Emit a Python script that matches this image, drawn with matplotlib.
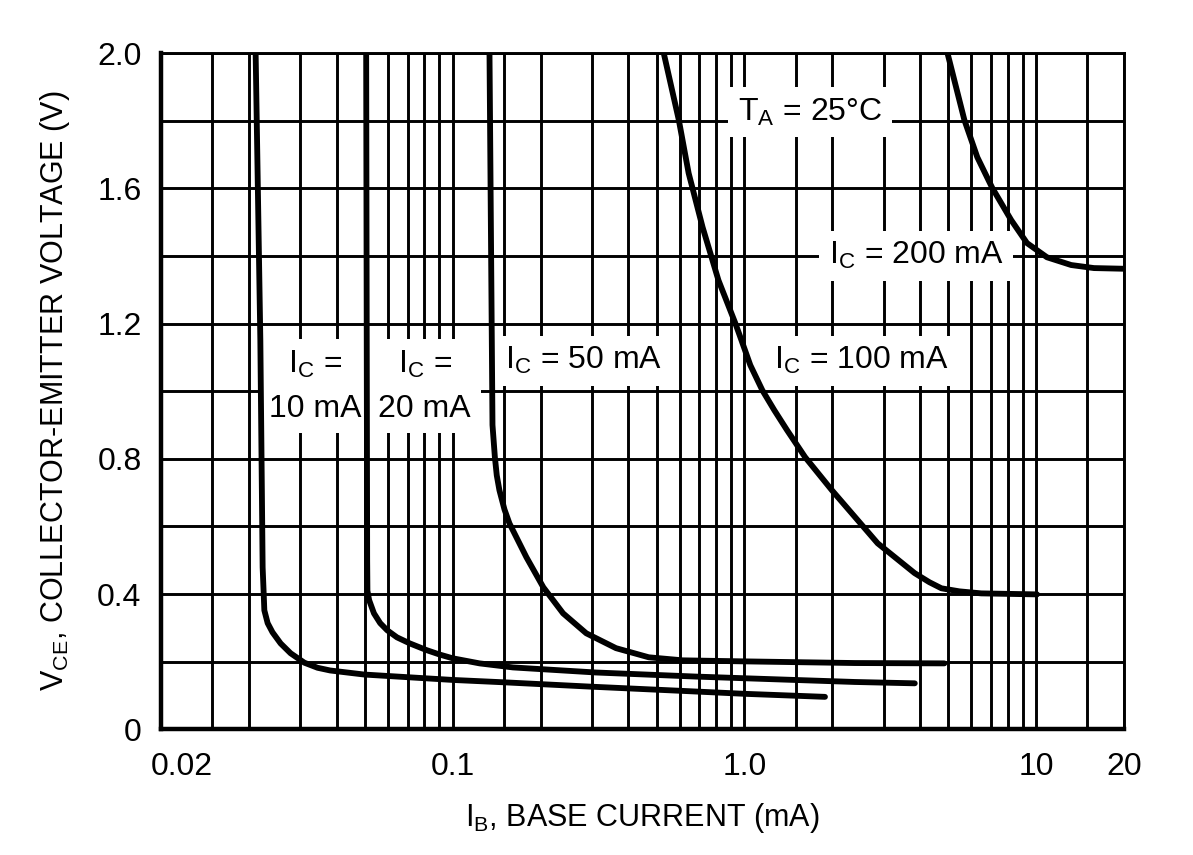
import numpy as np
import matplotlib
matplotlib.use('Agg')
import matplotlib.pyplot as plt
import matplotlib.transforms as mtransforms
from matplotlib.ticker import FixedLocator, LogLocator, NullFormatter

plt.rcParams['font.family'] = ['Liberation Sans Narrow', 'Liberation Sans', 'DejaVu Sans']

# base current (mA) and VCE (V)
ib_10 = [0.0211, 0.0219, 0.0223, 0.0225, 0.0226, 0.0232, 0.0241, 0.0257, 0.0278, 0.031,
         0.0344, 0.038, 0.0497, 0.0736, 0.1, 0.15, 0.3, 0.6, 1.0, 1.89]
vce_10 = [2.0, 1.15, 0.479, 0.396, 0.352, 0.314, 0.287, 0.254, 0.225, 0.197,
          0.182, 0.174, 0.162, 0.153, 0.146, 0.139, 0.126, 0.114, 0.105, 0.096]

ib_20 = [0.0505, 0.0509, 0.0510, 0.0517, 0.0537, 0.0564, 0.0596, 0.0644, 0.0713, 0.0815,
         0.0903, 0.1, 0.1236, 0.161, 0.31, 0.68, 1.0, 2.39, 3.84]
vce_20 = [2.0, 0.50, 0.41, 0.382, 0.343, 0.314, 0.293, 0.272, 0.254, 0.234,
          0.221, 0.210, 0.195, 0.183, 0.168, 0.156, 0.151, 0.140, 0.136]

ib_50 = [0.1337, 0.1369, 0.1395, 0.1416, 0.1446, 0.1505, 0.1565, 0.1789, 0.2045, 0.239,
         0.287, 0.363, 0.470, 0.614, 0.984, 2.39, 4.85]
vce_50 = [2.0, 0.90, 0.805, 0.751, 0.707, 0.650, 0.609, 0.509, 0.420, 0.343,
          0.284, 0.240, 0.213, 0.204, 0.201, 0.196, 0.195]

ib_100 = [0.529, 0.596, 0.644, 0.719, 0.815, 0.931, 0.977, 1.048, 1.152, 1.266,
          1.40, 1.615, 1.996, 2.865, 3.834, 4.31, 4.74, 5.46, 6.49, 10.08]
vce_100 = [2.0, 1.802, 1.645, 1.485, 1.328, 1.201, 1.151, 1.077, 1.003, 0.944,
           0.885, 0.805, 0.707, 0.550, 0.462, 0.435, 0.417, 0.408, 0.402, 0.399]

ib_200 = [4.97, 5.68, 6.29, 7.08, 8.22, 9.31, 10.9, 13.2, 15.8, 20.0]
vce_200 = [2.0, 1.802, 1.692, 1.601, 1.506, 1.438, 1.396, 1.373, 1.364, 1.362]

x_ticks = [0.01, 0.1, 1.0, 10, 20]
x_labels = ['0.02', '0.1', '1.0', '10', '20']
y_ticks = [0, 0.4, 0.8, 1.2, 1.6, 2.0]
y_labels = ['0', '0.4', '0.8', '1.2', '1.6', '2.0']

fig = plt.figure(figsize=(11.93, 8.55), dpi=100)
ax = fig.add_axes([0.135, 0.147, 0.807, 0.791])

for xs, ys in [(ib_10, vce_10), (ib_20, vce_20), (ib_50, vce_50),
               (ib_100, vce_100), (ib_200, vce_200)]:
    ax.plot(xs, ys, color='black', lw=4.2, zorder=4,
            solid_capstyle='round', solid_joinstyle='round')

ax.set_xscale('log')
ax.set_xlim(0.01, 20)
ax.set_ylim(0, 2.0)

ax.xaxis.set_major_locator(FixedLocator(x_ticks))
ax.set_xticklabels(x_labels)
ax.xaxis.set_minor_locator(LogLocator(base=10, subs=[1, 1.5, 2, 3, 4, 5, 6, 7, 8, 9], numticks=20))
ax.xaxis.set_minor_formatter(NullFormatter())
ax.set_yticks(y_ticks)
ax.set_yticklabels(y_labels)
ax.set_yticks(np.arange(0, 2.01, 0.2), minor=True)

ax.tick_params(which='both', length=0)
ax.tick_params(axis='x', labelsize=23, pad=16)
ax.tick_params(axis='y', labelsize=23, pad=14)

ax.set_axisbelow(True)
ax.grid(True, which='both', color='black', lw=2.1)

for side in ['left', 'bottom']:
    ax.spines[side].set_linewidth(3.2)
for side in ['top', 'right']:
    ax.spines[side].set_linewidth(2.1)

# first x label sits just right of the left edge
lbl = ax.get_xticklabels()[0]
lbl.set_horizontalalignment('left')
lbl.set_transform(lbl.get_transform() + mtransforms.ScaledTranslation(-0.1, 0, fig.dpi_scale_trans))

ax.set_xlabel(r'$\mathregular{I_B}$, BASE CURRENT (mA)', fontsize=22, labelpad=14)
ax.set_ylabel(r'$\mathregular{V_{CE}}$, COLLECTOR-EMITTER VOLTAGE (V)', fontsize=22, labelpad=18)

box = dict(facecolor='white', edgecolor='none', boxstyle='square,pad=0.3')
fs = 23
ax.text(0.0338, 1.015, '$\\mathregular{I_C}$ =\n10 mA', fontsize=fs, ha='center', va='center',
        bbox=box, zorder=3, linespacing=1.6)
ax.text(0.0802, 1.015, '$\\mathregular{I_C}$ =\n20 mA', fontsize=fs, ha='center', va='center',
        bbox=box, zorder=3, linespacing=1.6)
ax.text(0.28, 1.09, '$\\mathregular{I_C}$ = 50 mA', fontsize=fs, ha='center', va='center',
        bbox=box, zorder=3)
ax.text(2.53, 1.09, '$\\mathregular{I_C}$ = 100 mA', fontsize=fs, ha='center', va='center',
        bbox=box, zorder=3)
ax.text(1.68, 1.825, '$\\mathregular{T_A}$ = 25°C', fontsize=fs, ha='center', va='center',
        bbox=box, zorder=3)
ax.text(3.89, 1.40, '$\\mathregular{I_C}$ = 200 mA', fontsize=fs, ha='center', va='center',
        bbox=box, zorder=3)

plt.savefig('out.png', dpi=100)
